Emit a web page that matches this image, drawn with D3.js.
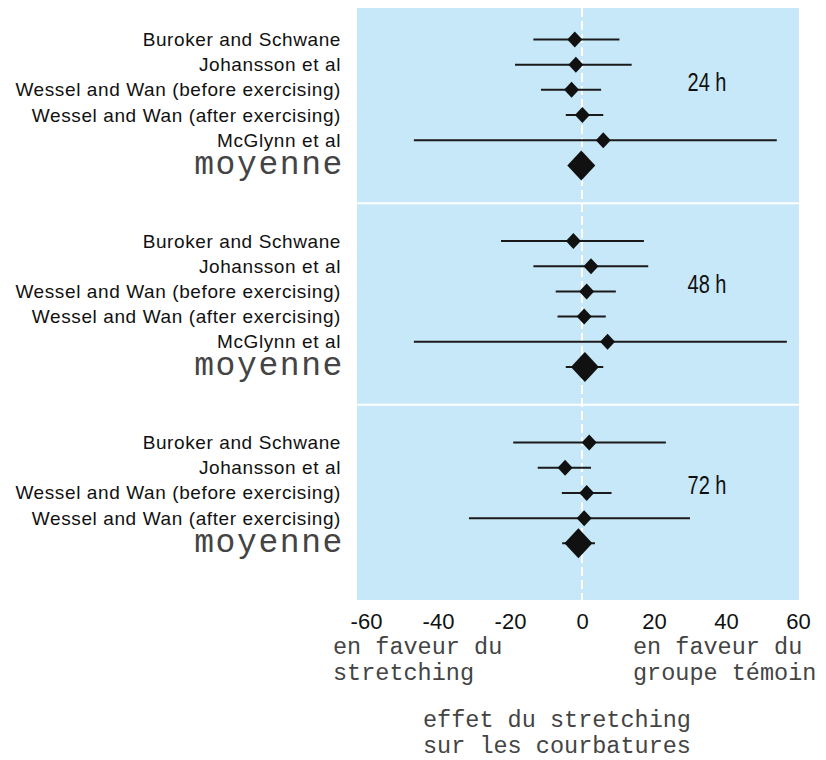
<!DOCTYPE html>
<html>
<head>
<meta charset="utf-8">
<script src="https://cdn.jsdelivr.net/npm/d3@7"></script>
<style>
  body { margin: 0; background: #fff; }
  .lab { font-family: "Liberation Sans", Arial, sans-serif; }
  .mono { font-family: "Liberation Mono", "Courier New", monospace; }
</style>
</head>
<body>
<script>
// periods and study names
const periods = ["24 h", "48 h", "72 h"];
const studies24 = ["Buroker and Schwane", "Johansson et al", "Wessel and Wan (before exercising)", "Wessel and Wan (after exercising)", "McGlynn et al", "moyenne"];
const studies48 = ["Buroker and Schwane", "Johansson et al", "Wessel and Wan (before exercising)", "Wessel and Wan (after exercising)", "McGlynn et al", "moyenne"];
const studies72 = ["Buroker and Schwane", "Johansson et al", "Wessel and Wan (before exercising)", "Wessel and Wan (after exercising)", "moyenne"];

// effect estimates and confidence limits
const est24 = [-2.0, -1.7, -2.9, 0.1, 5.9, -0.2];
const lo24 = [-13.5, -18.6, -11.4, -4.5, -46.7, -2.5];
const hi24 = [10.4, 13.8, 5.3, 5.9, 54.1, 2.2];
const est48 = [-2.4, 2.5, 1.3, 0.6, 7.1, 0.8];
const lo48 = [-22.5, -13.5, -7.3, -6.8, -46.7, -4.5];
const hi48 = [17.2, 18.4, 9.4, 6.6, 56.9, 5.9];
const est72 = [2.0, -4.7, 1.3, 0.6, -1.0];
const lo72 = [-19.1, -12.3, -5.6, -31.4, -5.5];
const hi72 = [23.3, 2.5, 8.2, 30.0, 3.6];

const tickValues = [-60, -40, -20, 0, 20, 40, 60];
const tickLabels = ["-60", "-40", "-20", "0", "20", "40", "60"];

const width = 826, height = 760;

const x = d3.scaleLinear().domain([-60, 60]).range([366, 798]);
// row index -> y ; each period takes 8 rows
const y = d3.scaleLinear().domain([-1.25, 22.25]).range([8, 600]);

const svg = d3.select("body").append("svg")
    .attr("width", width)
    .attr("height", height);

const groups = [
  { name: periods[0], studies: studies24, est: est24, lo: lo24, hi: hi24 },
  { name: periods[1], studies: studies48, est: est48, lo: lo48, hi: hi48 },
  { name: periods[2], studies: studies72, est: est72, lo: lo72, hi: hi72 }
];

const rows = groups.flatMap((g, p) => g.studies.map((s, i) => ({
  name: s, idx: p * 8 + i, est: g.est[i], lo: g.lo[i], hi: g.hi[i],
  mean: s === "moyenne"
})));

// background panel
svg.append("rect")
    .attr("x", 357).attr("y", y(-1.25))
    .attr("width", 799 - 357).attr("height", y(22.25) - y(-1.25))
    .attr("fill", "#c6e8f8");

// separators between periods
svg.append("g")
  .selectAll("line")
  .data([6.5, 14.5])
  .join("line")
    .attr("x1", 357).attr("x2", 799)
    .attr("y1", d => y(d)).attr("y2", d => y(d))
    .attr("stroke", "#fff")
    .attr("stroke-width", 2);

// zero line
svg.append("line")
    .attr("x1", x(0)).attr("x2", x(0))
    .attr("y1", y(-1.25)).attr("y2", y(22.25) + 4)
    .attr("stroke", "#fff")
    .attr("stroke-width", 2)
    .attr("stroke-dasharray", "9,4");

// confidence intervals
svg.append("g")
  .selectAll("line")
  .data(rows)
  .join("line")
    .attr("x1", d => x(d.lo)).attr("x2", d => x(d.hi))
    .attr("y1", d => y(d.idx)).attr("y2", d => y(d.idx))
    .attr("stroke", "#1a1a1a")
    .attr("stroke-width", 2);

// diamonds
svg.append("g")
  .selectAll("path")
  .data(rows)
  .join("path")
    .attr("d", d => {
      const cx = x(d.est), cy = y(d.idx);
      const w = d.mean ? 14 : 7.5, h = d.mean ? 15 : 8;
      return `M${cx - w},${cy}L${cx},${cy - h}L${cx + w},${cy}L${cx},${cy + h}Z`;
    })
    .attr("fill", "#111");

// study labels
svg.append("g")
  .selectAll("text")
  .data(rows)
  .join("text")
    .attr("class", d => d.mean ? "mono" : "lab")
    .attr("x", d => d.mean ? 344 : 341)
    .attr("y", d => y(d.idx) + (d.mean ? 8.5 : 6.5))
    .attr("text-anchor", "end")
    .attr("font-size", d => d.mean ? 33 : 19)
    .attr("letter-spacing", d => d.mean ? 1.6 : 0.6)
    .attr("fill", d => d.mean ? "#444" : "#111")
    .text(d => d.name);

// period labels (condensed)
svg.append("g")
  .selectAll("text")
  .data(groups)
  .join("text")
    .attr("class", "lab")
    .attr("transform", (d, p) => `translate(707,${y(p * 8 + 1.7) + 9}) scale(0.8,1)`)
    .attr("text-anchor", "middle")
    .attr("font-size", 25)
    .attr("fill", "#111")
    .text(d => d.name);

// x axis
const axis = svg.append("g")
    .attr("transform", `translate(0,${y(22.25)})`)
    .call(d3.axisBottom(x).tickValues(tickValues).tickSize(0).tickPadding(13)
      .tickFormat((d, i) => tickLabels[i]));
axis.select(".domain").remove();
axis.selectAll("text")
    .attr("class", "lab")
    .attr("font-size", 22)
    .attr("fill", "#111");

// bottom captions
const captions = [
  { x: 333, y: 654, t: "en faveur du" },
  { x: 333, y: 680, t: "stretching" },
  { x: 633, y: 654, t: "en faveur du" },
  { x: 633, y: 680, t: "groupe témoin" },
  { x: 423, y: 727, t: "effet du stretching" },
  { x: 423, y: 753, t: "sur les courbatures" }
];
svg.append("g")
  .selectAll("text")
  .data(captions)
  .join("text")
    .attr("class", "mono")
    .attr("x", d => d.x).attr("y", d => d.y)
    .attr("font-size", 23.5)
    .attr("fill", "#444")
    .text(d => d.t);
</script>
</body>
</html>
